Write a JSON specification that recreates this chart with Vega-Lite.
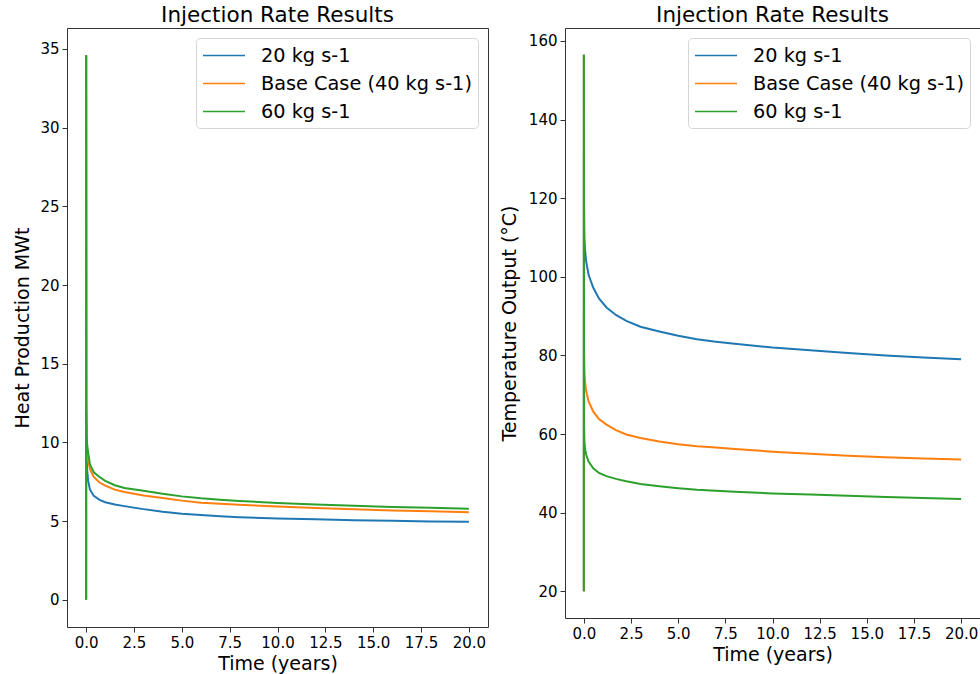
{
  "$schema": "https://vega.github.io/schema/vega-lite/v6.json",
  "padding": {"left": 13, "top": 4, "right": 0, "bottom": 0},
  "spacing": 10,
  "config": {
    "font": "DejaVu Sans",
    "view": {"stroke": "#333", "strokeWidth": 1},
    "title": {"fontSize": 21.5, "fontWeight": "normal", "font": "DejaVu Sans", "color": "black", "offset": 2, "anchor": "middle"},
    "axis": {"grid": false, "domain": false, "labelFont": "DejaVu Sans", "labelFontSize": 15, "labelColor": "black", "titleFont": "DejaVu Sans", "titleFontSize": 19, "titleFontWeight": "normal", "titleColor": "black", "tickColor": "#333", "tickSize": 5, "labelPadding": 3},
    "legend": {"orient": "top-right", "offset": 10, "title": null, "labelFont": "DejaVu Sans", "labelFontSize": 19.3, "labelColor": "black", "labelLimit": 0, "symbolType": "M-1,0H3", "symbolSize": 441, "symbolStrokeWidth": 1.5, "symbolFillColor": "transparent", "labelOffset": 36, "padding": 6, "rowPadding": 6, "strokeColor": "#d5d5d5", "fillColor": "rgba(255,255,255,0.8)", "cornerRadius": 4}
  },
  "datasets": {
    "heat": [
      {"t": 0, "v": 0, "s": "20 kg s-1"}, {"t": 0.001, "v": 34.6, "s": "20 kg s-1"}, {"t": 0.01, "v": 11.0, "s": "20 kg s-1"}, {"t": 0.03, "v": 9.0, "s": "20 kg s-1"}, {"t": 0.05, "v": 8.3, "s": "20 kg s-1"}, {"t": 0.1, "v": 7.6, "s": "20 kg s-1"}, {"t": 0.2, "v": 7.0, "s": "20 kg s-1"}, {"t": 0.4, "v": 6.6, "s": "20 kg s-1"}, {"t": 0.7, "v": 6.35, "s": "20 kg s-1"}, {"t": 1.0, "v": 6.2, "s": "20 kg s-1"}, {"t": 1.5, "v": 6.05, "s": "20 kg s-1"}, {"t": 2, "v": 5.95, "s": "20 kg s-1"}, {"t": 3, "v": 5.76, "s": "20 kg s-1"}, {"t": 4, "v": 5.6, "s": "20 kg s-1"}, {"t": 5, "v": 5.47, "s": "20 kg s-1"}, {"t": 6, "v": 5.38, "s": "20 kg s-1"}, {"t": 7, "v": 5.31, "s": "20 kg s-1"}, {"t": 8, "v": 5.25, "s": "20 kg s-1"}, {"t": 10, "v": 5.17, "s": "20 kg s-1"}, {"t": 12, "v": 5.11, "s": "20 kg s-1"}, {"t": 14, "v": 5.06, "s": "20 kg s-1"}, {"t": 16, "v": 5.02, "s": "20 kg s-1"}, {"t": 18, "v": 4.98, "s": "20 kg s-1"}, {"t": 20, "v": 4.95, "s": "20 kg s-1"},
      {"t": 0, "v": 0, "s": "Base Case (40 kg s-1)"}, {"t": 0.001, "v": 34.6, "s": "Base Case (40 kg s-1)"}, {"t": 0.01, "v": 12.0, "s": "Base Case (40 kg s-1)"}, {"t": 0.03, "v": 10.0, "s": "Base Case (40 kg s-1)"}, {"t": 0.05, "v": 9.4, "s": "Base Case (40 kg s-1)"}, {"t": 0.1, "v": 8.9, "s": "Base Case (40 kg s-1)"}, {"t": 0.2, "v": 8.3, "s": "Base Case (40 kg s-1)"}, {"t": 0.4, "v": 7.8, "s": "Base Case (40 kg s-1)"}, {"t": 0.7, "v": 7.45, "s": "Base Case (40 kg s-1)"}, {"t": 1.0, "v": 7.25, "s": "Base Case (40 kg s-1)"}, {"t": 1.5, "v": 7.0, "s": "Base Case (40 kg s-1)"}, {"t": 2, "v": 6.85, "s": "Base Case (40 kg s-1)"}, {"t": 3, "v": 6.62, "s": "Base Case (40 kg s-1)"}, {"t": 4, "v": 6.47, "s": "Base Case (40 kg s-1)"}, {"t": 5, "v": 6.3, "s": "Base Case (40 kg s-1)"}, {"t": 6, "v": 6.17, "s": "Base Case (40 kg s-1)"}, {"t": 7, "v": 6.1, "s": "Base Case (40 kg s-1)"}, {"t": 8, "v": 6.03, "s": "Base Case (40 kg s-1)"}, {"t": 10, "v": 5.93, "s": "Base Case (40 kg s-1)"}, {"t": 12, "v": 5.83, "s": "Base Case (40 kg s-1)"}, {"t": 14, "v": 5.75, "s": "Base Case (40 kg s-1)"}, {"t": 16, "v": 5.68, "s": "Base Case (40 kg s-1)"}, {"t": 18, "v": 5.62, "s": "Base Case (40 kg s-1)"}, {"t": 20, "v": 5.56, "s": "Base Case (40 kg s-1)"},
      {"t": 0, "v": 0, "s": "60 kg s-1"}, {"t": 0.001, "v": 34.6, "s": "60 kg s-1"}, {"t": 0.01, "v": 12.5, "s": "60 kg s-1"}, {"t": 0.03, "v": 10.5, "s": "60 kg s-1"}, {"t": 0.05, "v": 9.9, "s": "60 kg s-1"}, {"t": 0.1, "v": 9.4, "s": "60 kg s-1"}, {"t": 0.2, "v": 8.6, "s": "60 kg s-1"}, {"t": 0.4, "v": 8.1, "s": "60 kg s-1"}, {"t": 0.7, "v": 7.8, "s": "60 kg s-1"}, {"t": 1.0, "v": 7.55, "s": "60 kg s-1"}, {"t": 1.5, "v": 7.28, "s": "60 kg s-1"}, {"t": 2, "v": 7.1, "s": "60 kg s-1"}, {"t": 3, "v": 6.92, "s": "60 kg s-1"}, {"t": 4, "v": 6.73, "s": "60 kg s-1"}, {"t": 5, "v": 6.57, "s": "60 kg s-1"}, {"t": 6, "v": 6.45, "s": "60 kg s-1"}, {"t": 7, "v": 6.36, "s": "60 kg s-1"}, {"t": 8, "v": 6.28, "s": "60 kg s-1"}, {"t": 10, "v": 6.15, "s": "60 kg s-1"}, {"t": 12, "v": 6.05, "s": "60 kg s-1"}, {"t": 14, "v": 5.97, "s": "60 kg s-1"}, {"t": 16, "v": 5.9, "s": "60 kg s-1"}, {"t": 18, "v": 5.84, "s": "60 kg s-1"}, {"t": 20, "v": 5.79, "s": "60 kg s-1"}
    ],
    "temp": [
      {"t": 0, "v": 20, "s": "20 kg s-1"}, {"t": 0.001, "v": 156.5, "s": "20 kg s-1"}, {"t": 0.01, "v": 118, "s": "20 kg s-1"}, {"t": 0.03, "v": 110, "s": "20 kg s-1"}, {"t": 0.06, "v": 107, "s": "20 kg s-1"}, {"t": 0.12, "v": 104, "s": "20 kg s-1"}, {"t": 0.25, "v": 100.5, "s": "20 kg s-1"}, {"t": 0.5, "v": 97.2, "s": "20 kg s-1"}, {"t": 0.8, "v": 94.5, "s": "20 kg s-1"}, {"t": 1.2, "v": 92.2, "s": "20 kg s-1"}, {"t": 1.7, "v": 90.3, "s": "20 kg s-1"}, {"t": 2.25, "v": 88.8, "s": "20 kg s-1"}, {"t": 3, "v": 87.3, "s": "20 kg s-1"}, {"t": 4, "v": 86.1, "s": "20 kg s-1"}, {"t": 5, "v": 85.0, "s": "20 kg s-1"}, {"t": 6, "v": 84.1, "s": "20 kg s-1"}, {"t": 7, "v": 83.5, "s": "20 kg s-1"}, {"t": 8, "v": 83.0, "s": "20 kg s-1"}, {"t": 10, "v": 82.0, "s": "20 kg s-1"}, {"t": 12, "v": 81.3, "s": "20 kg s-1"}, {"t": 14, "v": 80.6, "s": "20 kg s-1"}, {"t": 16, "v": 80.0, "s": "20 kg s-1"}, {"t": 18, "v": 79.5, "s": "20 kg s-1"}, {"t": 20, "v": 79.0, "s": "20 kg s-1"},
      {"t": 0, "v": 20, "s": "Base Case (40 kg s-1)"}, {"t": 0.001, "v": 156.5, "s": "Base Case (40 kg s-1)"}, {"t": 0.01, "v": 81, "s": "Base Case (40 kg s-1)"}, {"t": 0.03, "v": 76, "s": "Base Case (40 kg s-1)"}, {"t": 0.06, "v": 73.5, "s": "Base Case (40 kg s-1)"}, {"t": 0.12, "v": 71, "s": "Base Case (40 kg s-1)"}, {"t": 0.25, "v": 68.3, "s": "Base Case (40 kg s-1)"}, {"t": 0.5, "v": 65.7, "s": "Base Case (40 kg s-1)"}, {"t": 0.8, "v": 63.8, "s": "Base Case (40 kg s-1)"}, {"t": 1.2, "v": 62.4, "s": "Base Case (40 kg s-1)"}, {"t": 1.7, "v": 61.0, "s": "Base Case (40 kg s-1)"}, {"t": 2.25, "v": 59.9, "s": "Base Case (40 kg s-1)"}, {"t": 3, "v": 59.0, "s": "Base Case (40 kg s-1)"}, {"t": 4, "v": 58.1, "s": "Base Case (40 kg s-1)"}, {"t": 5, "v": 57.4, "s": "Base Case (40 kg s-1)"}, {"t": 6, "v": 56.9, "s": "Base Case (40 kg s-1)"}, {"t": 7, "v": 56.6, "s": "Base Case (40 kg s-1)"}, {"t": 8, "v": 56.2, "s": "Base Case (40 kg s-1)"}, {"t": 10, "v": 55.5, "s": "Base Case (40 kg s-1)"}, {"t": 12, "v": 55.0, "s": "Base Case (40 kg s-1)"}, {"t": 14, "v": 54.5, "s": "Base Case (40 kg s-1)"}, {"t": 16, "v": 54.1, "s": "Base Case (40 kg s-1)"}, {"t": 18, "v": 53.8, "s": "Base Case (40 kg s-1)"}, {"t": 20, "v": 53.5, "s": "Base Case (40 kg s-1)"},
      {"t": 0, "v": 20, "s": "60 kg s-1"}, {"t": 0.001, "v": 156.5, "s": "60 kg s-1"}, {"t": 0.01, "v": 62.4, "s": "60 kg s-1"}, {"t": 0.03, "v": 58, "s": "60 kg s-1"}, {"t": 0.06, "v": 56.3, "s": "60 kg s-1"}, {"t": 0.12, "v": 54.8, "s": "60 kg s-1"}, {"t": 0.25, "v": 53, "s": "60 kg s-1"}, {"t": 0.5, "v": 51.3, "s": "60 kg s-1"}, {"t": 0.8, "v": 50.1, "s": "60 kg s-1"}, {"t": 1.2, "v": 49.3, "s": "60 kg s-1"}, {"t": 1.7, "v": 48.6, "s": "60 kg s-1"}, {"t": 2.25, "v": 48.0, "s": "60 kg s-1"}, {"t": 3, "v": 47.3, "s": "60 kg s-1"}, {"t": 4, "v": 46.7, "s": "60 kg s-1"}, {"t": 5, "v": 46.2, "s": "60 kg s-1"}, {"t": 6, "v": 45.8, "s": "60 kg s-1"}, {"t": 7, "v": 45.6, "s": "60 kg s-1"}, {"t": 8, "v": 45.3, "s": "60 kg s-1"}, {"t": 10, "v": 44.9, "s": "60 kg s-1"}, {"t": 12, "v": 44.6, "s": "60 kg s-1"}, {"t": 14, "v": 44.3, "s": "60 kg s-1"}, {"t": 16, "v": 44.0, "s": "60 kg s-1"}, {"t": 18, "v": 43.7, "s": "60 kg s-1"}, {"t": 20, "v": 43.5, "s": "60 kg s-1"}
    ]
  },
  "resolve": {"scale": {"color": "independent"}, "legend": {"color": "independent"}},
  "hconcat": [
    {
      "title": "Injection Rate Results",
      "width": 421,
      "height": 599,
      "data": {"name": "heat"},
      "mark": {"type": "line", "strokeWidth": 2, "clip": true},
      "encoding": {
        "x": {"field": "t", "type": "quantitative", "title": "Time (years)", "scale": {"domain": [-1, 21], "nice": false, "zero": false}, "axis": {"values": [0, 2.5, 5, 7.5, 10, 12.5, 15, 17.5, 20], "format": ".1f"}},
        "y": {"field": "v", "type": "quantitative", "title": "Heat Production MWt", "scale": {"domain": [-1.73, 36.33], "nice": false, "zero": false}, "axis": {"values": [0, 5, 10, 15, 20, 25, 30, 35], "format": "d", "titlePadding": 7}},
        "color": {"field": "s", "type": "nominal", "sort": ["20 kg s-1", "Base Case (40 kg s-1)", "60 kg s-1"], "scale": {"domain": ["20 kg s-1", "Base Case (40 kg s-1)", "60 kg s-1"], "range": ["#1f77b4", "#ff7f0e", "#2ca02c"]}},
        "order": {"field": "t", "type": "quantitative"}
      }
    },
    {
      "title": "Injection Rate Results",
      "width": 415,
      "height": 590,
      "data": {"name": "temp"},
      "mark": {"type": "line", "strokeWidth": 2, "clip": true},
      "encoding": {
        "x": {"field": "t", "type": "quantitative", "title": "Time (years)", "scale": {"domain": [-1, 21], "nice": false, "zero": false}, "axis": {"values": [0, 2.5, 5, 7.5, 10, 12.5, 15, 17.5, 20], "format": ".1f"}},
        "y": {"field": "v", "type": "quantitative", "title": "Temperature Output (°C)", "scale": {"domain": [13.2, 163.3], "nice": false, "zero": false}, "axis": {"values": [20, 40, 60, 80, 100, 120, 140, 160], "format": "d", "titlePadding": 9}},
        "color": {"field": "s", "type": "nominal", "sort": ["20 kg s-1", "Base Case (40 kg s-1)", "60 kg s-1"], "scale": {"domain": ["20 kg s-1", "Base Case (40 kg s-1)", "60 kg s-1"], "range": ["#1f77b4", "#ff7f0e", "#2ca02c"]}},
        "order": {"field": "t", "type": "quantitative"}
      }
    }
  ]
}
